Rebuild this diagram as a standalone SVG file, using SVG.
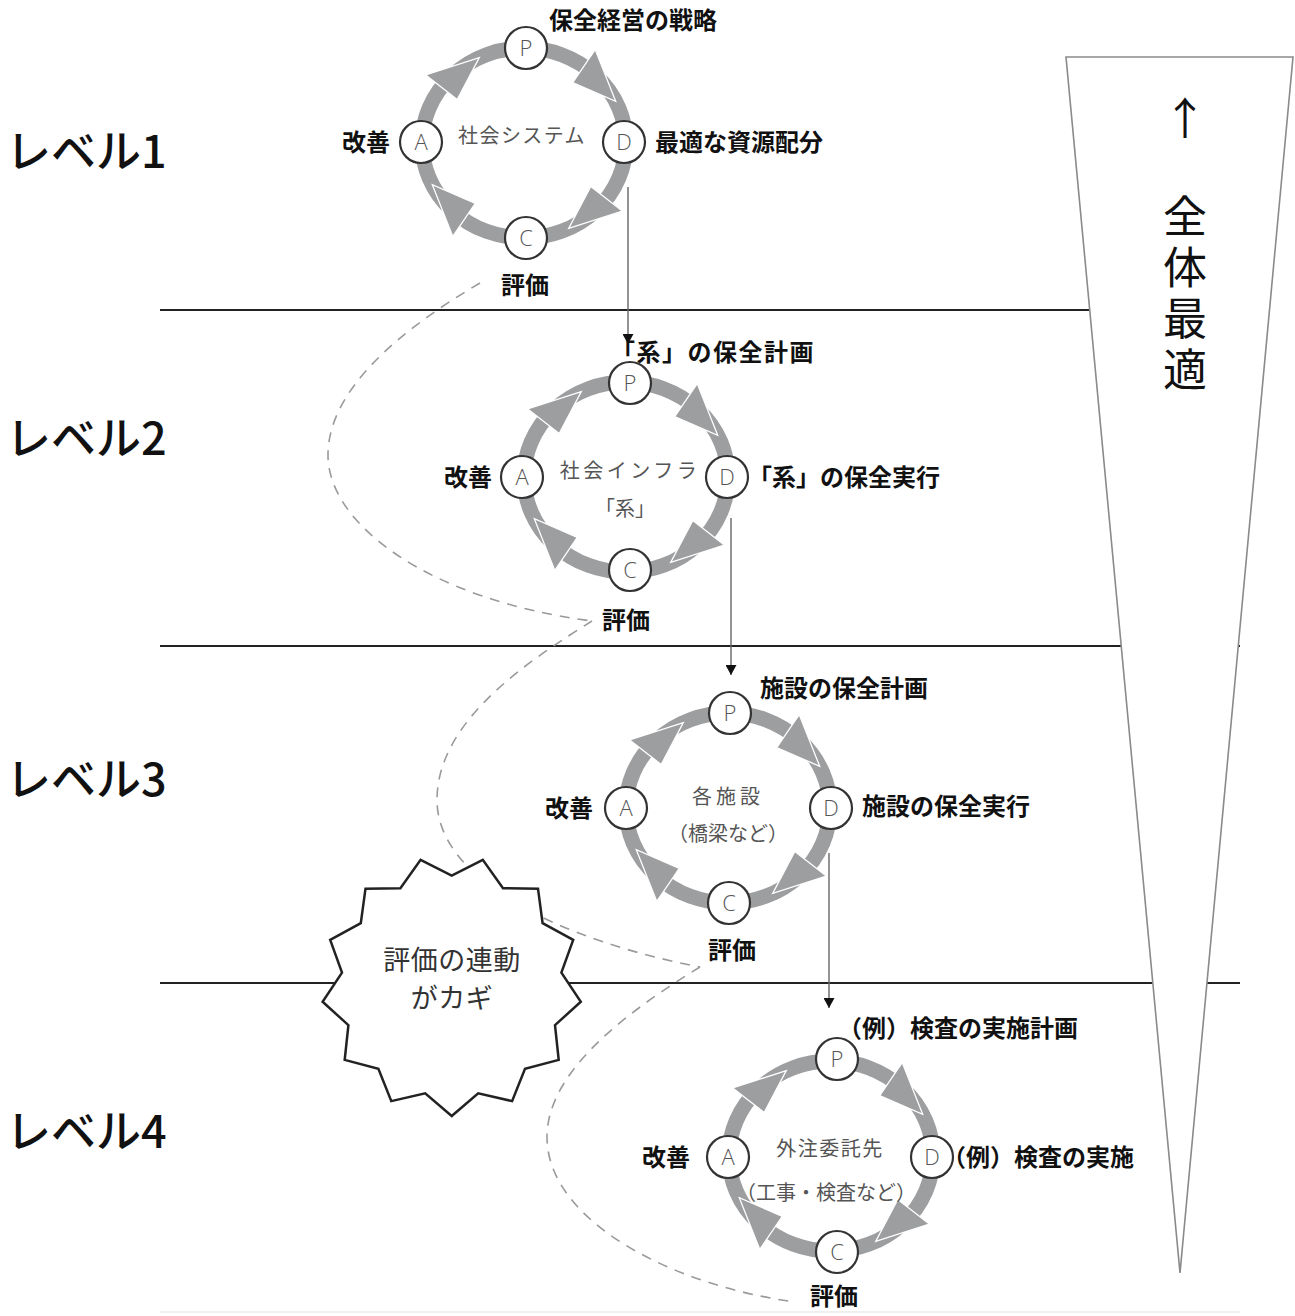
<svg xmlns="http://www.w3.org/2000/svg" width="1295" height="1316" viewBox="0 0 1295 1316">
<style>
.lvl{font-family:"Noto Sans CJK JP","Noto Sans",sans-serif;font-size:45px;font-weight:500;fill:#111}
.lab{font-family:"Noto Sans CJK JP","Noto Sans",sans-serif;font-size:24px;font-weight:700;fill:#111}
.ctr{font-family:"Noto Sans CJK JP",sans-serif;font-size:20px;fill:#555;text-anchor:middle}
.ltr{font-family:"Open Sans","Noto Sans",sans-serif;font-weight:300;font-size:22px;fill:#555;text-anchor:middle}
.nd{fill:#fff;stroke:#333;stroke-width:2.2}
.ring{fill:none;stroke:#9d9ea0;stroke-width:15}
.ahd{fill:#9d9ea0;stroke:#fff;stroke-width:1.3;stroke-linejoin:miter}
.hl{stroke:#222;stroke-width:2}
.dash{fill:none;stroke:#9a9a9a;stroke-width:1.6;stroke-dasharray:10 8}
.con{stroke:#666;stroke-width:1.4;marker-end:url(#ah)}
.big{font-family:"Noto Sans CJK JP",sans-serif;font-size:44px;fill:#111;text-anchor:middle}
.star{font-family:"Noto Sans CJK JP",sans-serif;font-size:27px;fill:#333;text-anchor:middle}
</style>
<defs>
<marker id="ah" markerWidth="10" markerHeight="11" refX="10" refY="5.5" orient="auto" markerUnits="userSpaceOnUse"><path d="M0,0 L10,5.5 L0,11 z" fill="#111"/></marker>
<g id="ring">
<ellipse class="ring" cx="0" cy="0" rx="102" ry="95"/>
<polygon class="ahd" points="71.2,-93.4 48.7,-60.3 91.7,-41.7"/>
<polygon class="ahd" points="98.3,68.1 66.8,43.5 44.7,85.4"/>
<polygon class="ahd" points="-71.2,93.4 -48.7,60.3 -91.7,41.7"/>
<polygon class="ahd" points="-98.3,-68.1 -66.8,-43.5 -44.7,-85.4"/>
</g>
</defs>
<rect width="1295" height="1316" fill="#fff"/>

<g id="levels">
<text class="lvl" x="6" y="168">レベル1</text>
<text class="lvl" x="6" y="455">レベル2</text>
<text class="lvl" x="6" y="796">レベル3</text>
<text class="lvl" x="6" y="1148">レベル4</text>
</g>

<g id="separators">
<line class="hl" x1="160" y1="310" x2="1240" y2="310"/>
<line class="hl" x1="160" y1="646" x2="1240" y2="646"/>
<line class="hl" x1="160" y1="983" x2="1240" y2="983"/>
<line x1="160" y1="1312" x2="1240" y2="1312" stroke="#eaeaea" stroke-width="1.5"/>
</g>

<g id="triangle">
<polygon points="1066,57 1293,57 1180,1273" fill="#fff" stroke="#8a8a8a" stroke-width="1.6"/>
<text class="big" x="1185" y="135" font-size="48">↑</text>
<text class="big" x="1185" y="296" writing-mode="vertical-rl" letter-spacing="7">全体最適</text>
</g>

<g id="connectors">
<path class="dash" d="M480,283 C400,330 328,390 328,455 C328,525 430,600 592,621"/>
<path class="dash" d="M592,621 C530,660 437,720 437,800 C437,880 560,940 700,967"/>
<path class="dash" d="M700,967 C630,1010 547,1070 547,1137 C547,1220 670,1285 795,1302"/>
<line class="con" x1="628" y1="187" x2="628" y2="344"/>
<line class="con" x1="731" y1="518" x2="731" y2="675"/>
<line class="con" x1="829" y1="853" x2="829" y2="1008"/>
</g>

<g id="star">
<polygon points="451.7,1116 425.2,1093.3 391.3,1101.1 378.4,1068.7 344.7,1059.9 348.4,1025.2 322.6,1001.7 342,972.7 330.2,939.9 360.8,923.2 365.5,888.7 400.4,888.2 420.6,859.8 451.7,875.5 482.8,859.8 503,888.2 538,888.7 542.6,923.2 573.2,939.9 561.4,972.7 580.8,1001.7 555,1025.2 558.7,1059.9 525,1068.7 512.1,1101.1 478.2,1093.3" fill="#fff" stroke="#222" stroke-width="2.5" stroke-linejoin="miter"/>
<text class="star" x="452" y="970" letter-spacing="0.5">評価の連動</text>
<text class="star" x="452" y="1008" letter-spacing="0.5">がカギ</text>
</g>

<g id="cycle1">
<use href="#ring" transform="translate(524,143)"/>
<text class="ctr" x="522" y="143" letter-spacing="1.4">社会システム</text>
<g id="c1-P"><circle class="nd" cx="526" cy="48" r="21"/><text class="ltr" x="526" y="56">P</text><text class="lab" x="549" y="29">保全経営の戦略</text></g>
<g id="c1-D"><circle class="nd" cx="624" cy="142" r="21"/><text class="ltr" x="624" y="150">D</text><text class="lab" x="655" y="151">最適な資源配分</text></g>
<g id="c1-C"><circle class="nd" cx="526" cy="238" r="21"/><text class="ltr" x="526" y="246">C</text><text class="lab" x="501" y="294">評価</text></g>
<g id="c1-A"><circle class="nd" cx="421" cy="142" r="21"/><text class="ltr" x="421" y="150">A</text><text class="lab" x="390" y="151" text-anchor="end">改善</text></g>
</g>

<g id="cycle2">
<use href="#ring" transform="translate(626,477)"/>
<text class="ctr" x="630" y="478" letter-spacing="3.5">社会インフラ</text>
<text class="ctr" x="625" y="516">「系」</text>
<g id="c2-P"><circle class="nd" cx="630" cy="383" r="21"/><text class="ltr" x="630" y="391">P</text><text class="lab" x="611" y="361" letter-spacing="1.5">「系」の保全計画</text></g>
<g id="c2-D"><circle class="nd" cx="727" cy="477" r="21"/><text class="ltr" x="727" y="485">D</text><text class="lab" x="748" y="486">「系」の保全実行</text></g>
<g id="c2-C"><circle class="nd" cx="630" cy="570" r="21"/><text class="ltr" x="630" y="578">C</text><text class="lab" x="602" y="629">評価</text></g>
<g id="c2-A"><circle class="nd" cx="522" cy="477" r="21"/><text class="ltr" x="522" y="485">A</text><text class="lab" x="492" y="486" text-anchor="end">改善</text></g>
</g>

<g id="cycle3">
<use href="#ring" transform="translate(728,808)"/>
<text class="ctr" x="728" y="804" letter-spacing="4">各施設</text>
<text class="ctr" x="728" y="841">（橋梁など）</text>
<g id="c3-P"><circle class="nd" cx="730" cy="713" r="21"/><text class="ltr" x="730" y="721">P</text><text class="lab" x="760" y="697">施設の保全計画</text></g>
<g id="c3-D"><circle class="nd" cx="831" cy="808" r="21"/><text class="ltr" x="831" y="816">D</text><text class="lab" x="862" y="815">施設の保全実行</text></g>
<g id="c3-C"><circle class="nd" cx="729" cy="903" r="21"/><text class="ltr" x="729" y="911">C</text><text class="lab" x="708" y="959">評価</text></g>
<g id="c3-A"><circle class="nd" cx="626" cy="808" r="21"/><text class="ltr" x="626" y="816">A</text><text class="lab" x="593" y="817" text-anchor="end">改善</text></g>
</g>

<g id="cycle4">
<use href="#ring" transform="translate(831,1156)"/>
<text class="ctr" x="830" y="1156" letter-spacing="1.5">外注委託先</text>
<text class="ctr" x="826" y="1200" font-size="19">（工事・検査など）</text>
<g id="c4-P"><circle class="nd" cx="837" cy="1059" r="21"/><text class="ltr" x="837" y="1067">P</text><text class="lab" x="838" y="1037">（例）検査の実施計画</text></g>
<g id="c4-D"><circle class="nd" cx="932" cy="1157" r="21"/><text class="ltr" x="932" y="1165">D</text><text class="lab" x="942" y="1166">（例）検査の実施</text></g>
<g id="c4-C"><circle class="nd" cx="837" cy="1252" r="21"/><text class="ltr" x="837" y="1260">C</text><text class="lab" x="810" y="1305">評価</text></g>
<g id="c4-A"><circle class="nd" cx="728" cy="1157" r="21"/><text class="ltr" x="728" y="1165">A</text><text class="lab" x="690" y="1166" text-anchor="end">改善</text></g>
</g>
</svg>
